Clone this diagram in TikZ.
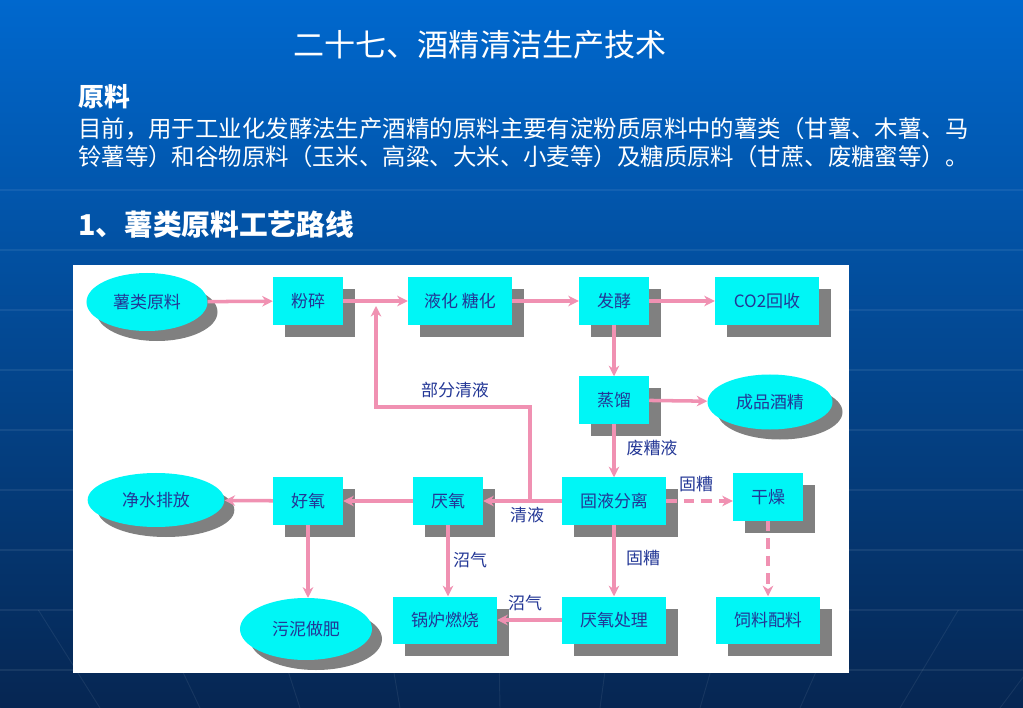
\documentclass[tikz,border=0pt]{standalone}
\usepackage{fontspec}
\setmainfont{Noto Sans CJK SC}
\usetikzlibrary{shapes.geometric,shadows,arrows.meta}

\definecolor{boxcyan}{RGB}{0,246,246}
\definecolor{shadowgray}{RGB}{128,128,128}
\definecolor{flowpink}{RGB}{240,145,178}
\definecolor{labelblue}{RGB}{35,55,150}
\definecolor{bgtop}{RGB}{0,104,206}
\definecolor{bgmid}{RGB}{4,70,150}
\definecolor{bgbot}{RGB}{6,38,82}

\tikzset{
  procbox/.style={fill=boxcyan, minimum width=2.1cm, minimum height=1.41cm,
    font=\fontsize{14.5}{15}\selectfont, text=labelblue,
    drop shadow={shadow xshift=0.36cm, shadow yshift=-0.36cm, fill=shadowgray, opacity=1}},
  widebox/.style={procbox, minimum width=3.12cm},
  endpoint/.style={ellipse, fill=boxcyan, font=\fontsize{14.5}{15}\selectfont, text=labelblue,
    drop shadow={shadow xshift=0.3cm, shadow yshift=-0.3cm, fill=shadowgray, opacity=1}},
  flow/.style={draw=flowpink, line width=3pt, -{Stealth[length=9pt,width=9pt]}},
  dflow/.style={flow, dash pattern=on 9pt off 6pt},
  flowlabel/.style={font=\fontsize{14.5}{15}\selectfont, text=labelblue, inner sep=1pt},
}

\begin{document}
\begin{tikzpicture}[x=0.03cm, y=-0.03cm]

    \useasboundingbox (0,0) rectangle (1023,708);

    % slide background
    \shade[top color=bgtop, middle color=bgmid, bottom color=bgbot] (0,0) rectangle (1023,708);
    \foreach \y in {190,250,...,670}
        \draw[white, opacity=0.07, line width=1pt] (0,\y) -- (1023,\y);
    \foreach \x in {-100,0,...,1100}
        \draw[white, opacity=0.07, line width=0.8pt] ({511+(\x-511)*1.15},610) -- (\x,708);

    % headings
    \node[text=white, font=\fontsize{26.5}{28}\selectfont] (title) at (480,45) {二十七、酒精清洁生产技术};
    \node[text=white, anchor=west, inner sep=0pt, font=\fontsize{22}{24}\selectfont\bfseries] (yuanliao) at (78,97) {原料};
    \node[text=white, anchor=west, inner sep=0pt, align=left, font=\fontsize{20}{24}\selectfont] (intro) at (78,143)
        {目前，用于工业化发酵法生产酒精的原料主要有淀粉质原料中的薯类（甘薯、木薯、马\\铃薯等）和谷物原料（玉米、高粱、大米、小麦等）及糖质原料（甘蔗、废糖蜜等）。};
    \node[text=white, anchor=west, inner sep=0pt, font=\fontsize{24.5}{26}\selectfont\bfseries] (route) at (78,225) {1、薯类原料工艺路线};

    % diagram panel
    \fill[white] (73,265) rectangle (849,673);

    \node[endpoint, minimum width=3.63cm, minimum height=1.74cm] (shuliao) at (147,302) {薯类原料};
    \node[procbox] (fensui) at (308,301) {粉碎};
    \node[widebox] (tanghua) at (460,301) {液化 糖化};
    \node[procbox] (fajiao) at (614,301) {发酵};
    \node[widebox] (huishou) at (767,301) {CO2回收};
    \node[procbox] (zhengliu) at (614,400) {蒸馏};
    \node[endpoint, minimum width=3.75cm, minimum height=1.65cm] (jiujing) at (770,402) {成品酒精};
    \node[endpoint, minimum width=4.1cm, minimum height=1.62cm] (jingshui) at (156,500) {净水排放};
    \node[procbox] (haoyang) at (308,501) {好氧};
    \node[procbox] (yanyang) at (448,501) {厌氧};
    \node[widebox] (fenli) at (614,501) {固液分离};
    \node[procbox] (ganzao) at (768,497) {干燥};
    \node[endpoint, minimum width=3.96cm, minimum height=1.86cm] (wuni) at (306,629) {污泥做肥};
    \node[widebox] (guolu) at (445,620) {锅炉燃烧};
    \node[widebox] (chuli) at (614,620) {厌氧处理};
    \node[widebox] (siliao) at (768,620) {饲料配料};

    \coordinate (fbfoot) at (530,501);
    \coordinate (fbcorner) at (530,407);
    \coordinate (fbtop) at (376,306);

    \draw[flow] (shuliao) -- (fensui);
    \draw[flow] (fensui) -- (tanghua);
    \draw[flow] (tanghua) -- (fajiao);
    \draw[flow] (fajiao) -- (huishou);
    \draw[flow] (fajiao) -- (zhengliu);
    \draw[flow] (zhengliu) -- (jiujing);
    \draw[flow] (zhengliu) -- (fenli);
    \draw[flow] (fenli) -- (yanyang);
    \draw[flow] (fbfoot) -- (fbcorner) -| (fbtop);
    \draw[flow] (yanyang) -- (haoyang);
    \draw[flow] (haoyang) -- (jingshui);
    \draw[flow] (haoyang.south) -- (haoyang.south |- wuni.north);
    \draw[flow] (yanyang.south) -- (yanyang.south |- guolu.north);
    \draw[flow] (fenli) -- (chuli);
    \draw[flow] (chuli) -- (guolu);
    \draw[dflow] (fenli.east) -- (fenli.east -| ganzao.west);
    \draw[dflow] (ganzao) -- (siliao);

    \node[flowlabel] (bufen) at (455,390) {部分清液};
    \node[flowlabel] (feizao) at (652,448) {废糟液};
    \node[flowlabel] (qingye) at (527,515) {清液};
    \node[flowlabel] (guzaoa) at (696,484) {固糟};
    \node[flowlabel] (zhaoqia) at (470,560) {沼气};
    \node[flowlabel] (guzaob) at (643,558) {固糟};
    \node[flowlabel] (zhaoqib) at (525,603) {沼气};

\end{tikzpicture}
\end{document}
